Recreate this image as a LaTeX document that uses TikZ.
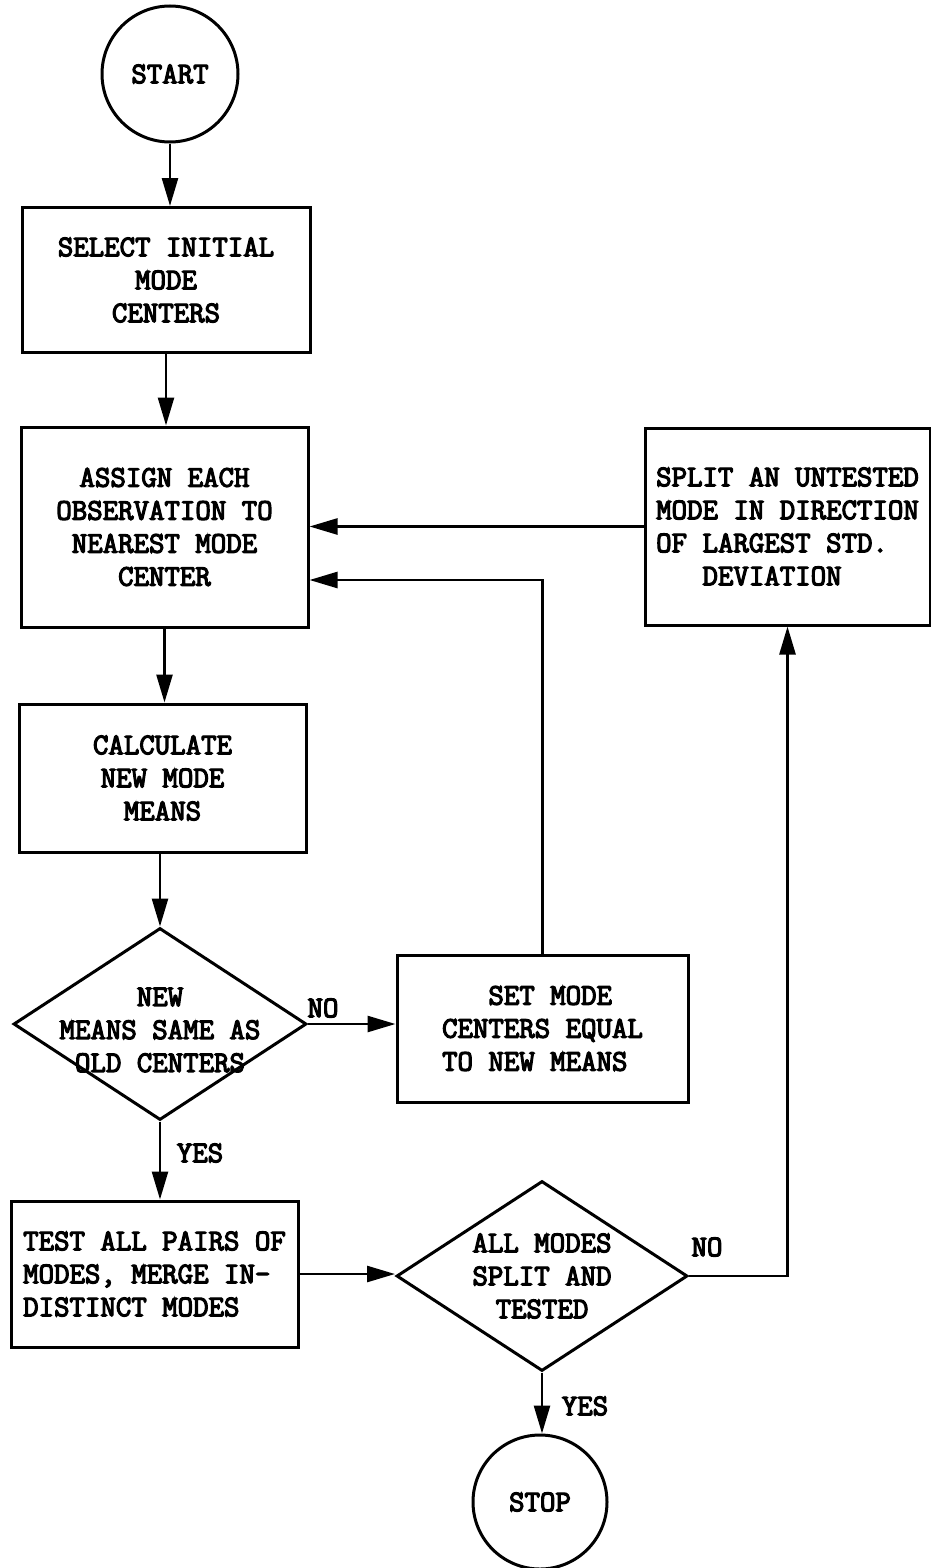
\documentclass[tikz,border=0pt]{standalone}
\usepackage{fontspec}
\newfontfamily\typer{Latin Modern Mono}[FakeBold=4]
\usepackage{tikz}
\usetikzlibrary{shapes.geometric,arrows.meta,calc}

\begin{document}
\begin{tikzpicture}[x=0.5pt,y=-0.5pt,
  every node/.style={font=\typer\fontsize{15}{16.5}\selectfont},
  box/.style={draw,line width=1.5pt,inner sep=2pt},
  decision/.style={draw,diamond,line width=1.5pt,inner sep=0pt},
  terminal/.style={draw,circle,line width=1.5pt,inner sep=0pt},
  flow/.style={line width=1.3pt,-{Triangle[length=14pt,width=8pt]}}]

\useasboundingbox (0,0) rectangle (931,1568);

% Start and stop
\node[terminal,minimum size=68pt] (start) at (170,74) {START};
\node[terminal,minimum size=67pt] (stop) at (540,1502) {STOP};

% Left column
\node[box,minimum width=144pt,minimum height=72.5pt,align=center] (select) at (166,280) {SELECT INITIAL\\MODE\\CENTERS};
\node[box,minimum width=143.5pt,minimum height=100pt,align=center] (assign) at (164.5,527) {ASSIGN EACH\\OBSERVATION TO\\NEAREST MODE\\CENTER};
\node[box,minimum width=143.5pt,minimum height=74pt,align=center] (means) at (162.5,778) {CALCULATE\\NEW MODE\\MEANS};
\node[decision,minimum width=146.5pt,minimum height=96pt,
  label={[align=center,yshift=-3pt]center:NEW\\MEANS SAME AS\\OLD CENTERS}] (same) at (160,1024) {};
\node[box,minimum width=143.5pt,minimum height=73pt,align=left] (merge) at (154.5,1274) {TEST ALL PAIRS OF\\MODES, MERGE IN-\\DISTINCT MODES};

% Right side
\node[box,minimum width=145.5pt,minimum height=73.5pt,align=left] (reset) at (542.5,1028.5) {\hphantom{XXX}SET MODE\\CENTERS EQUAL\\TO NEW MEANS};
\node[decision,minimum width=145.5pt,minimum height=95pt,
  label={[align=center]center:ALL MODES\\SPLIT AND\\TESTED}] (tested) at (542,1276) {};
\node[box,minimum width=142.5pt,minimum height=98.5pt,align=left] (split) at (787.5,526.5) {SPLIT AN UNTESTED\\MODE IN DIRECTION\\OF LARGEST STD.\\\hphantom{XXX}DEVIATION};

% Answers
\node (no1) at (323,1008) {NO};
\node (yes1) at (200,1153) {YES};
\node (no2) at (707,1247) {NO};
\node (yes2) at (585,1406) {YES};

% Main flow
\draw[flow] (start) -- (start |- select.north);
\draw[flow] (select.south) -- (select.south |- assign.north);
\draw[flow] (assign.south) -- (assign.south |- means.north);
\draw[flow] (means.south -| same.north) -- (same.north);
\draw[flow] (same.south) -- (same.south |- merge.north);
\draw[flow] (merge.east) -- (merge.east -| tested.west);
\draw[flow] (tested.south) -- (tested.south |- stop.north);

% Loops back
\draw[flow] (same.east) -- (same.east -| reset.west);
\draw[flow] (reset.north) |- ($(assign.east)+(0,53)$);
\draw[flow] (tested.east) -| (split.south);
\draw[flow] (split.west) -- (split.west -| assign.east);

\end{tikzpicture}
\end{document}
